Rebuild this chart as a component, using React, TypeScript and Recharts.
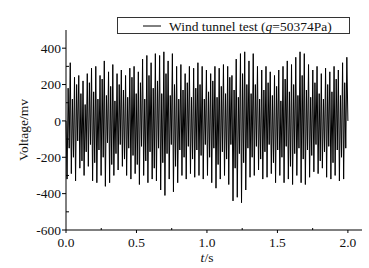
import React from "react";
import { LineChart, Line, XAxis, YAxis, Legend } from "recharts";

// Main extrema, in order (mV)
const peaks: number[] = [
  320, 240, 250, 220, 260, 290, 300, 250, 330, 270, 310,
  260, 280, 250, 290, 300, 270, 340, 360, 320, 370, 360,
  380, 330, 370, 300, 310, 260, 300, 290, 320, 300, 280,
  260, 300, 290, 310, 300, 250, 340, 370, 380, 330, 370,
  300, 280, 300, 270, 250, 280, 300, 330, 310, 350, 380,
  370, 310, 280, 300, 260, 290, 270, 300, 280, 320, 350,
];
const troughs: number[] = [
  -320, -290, -330, -260, -300, -250, -330, -340, -300, -360, -340,
  -300, -270, -250, -300, -320, -290, -350, -300, -340, -320, -330,
  -380, -410, -320, -390, -340, -300, -320, -290, -310, -300, -320,
  -300, -340, -370, -320, -300, -350, -440, -420, -450, -380, -310,
  -300, -270, -320, -310, -290, -340, -300, -340, -320, -350, -300,
  -340, -350, -310, -280, -290, -260, -310, -320, -300, -330, -320,
];
// Secondary (inner) extrema between the main ones
const innerPeaks: number[] = [
  180, 120, 200, 150, 90, 210, 160, 120, 230, 140, 190,
  110, 200, 170, 130, 240, 150, 210, 120, 250, 180, 220,
  150, 260, 140, 200, 120, 170, 210, 130, 180, 200, 120,
  160, 220, 130, 190, 150, 240, 170, 130, 260, 200, 150,
  200, 120, 170, 210, 140, 190, 110, 230, 160, 200, 140,
  250, 170, 130, 210, 150, 120, 200, 160, 230, 140, 210,
];
const innerTroughs: number[] = [
  -150, -200, -110, -220, -170, -130, -230, -160, -200, -120, -240,
  -180, -130, -210, -150, -190, -240, -140, -220, -170, -260, -150,
  -230, -180, -130, -250, -160, -200, -140, -210, -160, -190, -130,
  -200, -150, -240, -170, -210, -130, -260, -180, -230, -150, -200,
  -140, -210, -170, -130, -230, -160, -200, -140, -250, -180, -150,
  -210, -160, -190, -130, -220, -170, -140, -230, -160, -200, -150,
];
const startValue = 0;
const endValue = 0;
const tStart = 0;
const tEnd = 2.0;

const xTicks: number[] = [0, 0.25, 0.5, 0.75, 1.0, 1.25, 1.5, 1.75, 2.0];
const yTicks: number[] = [-600, -500, -400, -300, -200, -100, 0, 100, 200, 300, 400];

const values: number[] = [startValue];
for (let i = 0; i < peaks.length; i++) {
  values.push(troughs[i]);
  values.push(innerPeaks[i]);
  values.push(innerTroughs[i]);
  values.push(peaks[i]);
}
values.push(endValue);
const data = values.map((v, i) => ({
  t: tStart + ((tEnd - tStart) * i) / (values.length - 1),
  v,
}));

const FONT = "'Liberation Serif', 'Times New Roman', serif";

const XTick = (props: any) => {
  const { x, y, payload } = props;
  const val = payload.value as number;
  const major = Math.abs(val * 2 - Math.round(val * 2)) < 1e-6;
  if (!major) {
    return <line x1={x} x2={x} y1={y} y2={y - 2} stroke="#000" strokeWidth={1} />;
  }
  return (
    <g>
      <line x1={x} x2={x} y1={y} y2={y + 3} stroke="#000" strokeWidth={1} />
      <text x={x} y={y + 17} textAnchor="middle" fontFamily={FONT} fontSize={13.5} fill="#111">
        {val.toFixed(1)}
      </text>
    </g>
  );
};

const YTick = (props: any) => {
  const { x, y, payload } = props;
  const val = payload.value as number;
  const major = val % 200 === 0;
  if (!major) {
    return <line x1={x} x2={x + 3} y1={y} y2={y} stroke="#000" strokeWidth={1} />;
  }
  return (
    <g>
      <line x1={x - 4} x2={x} y1={y} y2={y} stroke="#000" strokeWidth={1} />
      <text x={x - 5} y={y} dy="0.35em" textAnchor="end" fontFamily={FONT} fontSize={13.5} fill="#111">
        {val}
      </text>
    </g>
  );
};

const LegendBox = () => (
  <div
    style={{
      width: 231,
      height: 15,
      border: "1px solid #333",
      background: "#fff",
      position: "relative",
      boxSizing: "content-box",
    }}
  >
    <svg width={231} height={15} style={{ position: "absolute", left: 0, top: 0 }}>
      <line x1={25} x2={43} y1={8} y2={8} stroke="#000" strokeWidth={1} />
      <text x={51} y={12.5} fontFamily={FONT} fontSize={13.5} fill="#111">
        Wind tunnel test (<tspan fontStyle="italic">q</tspan>=50374Pa)
      </text>
    </svg>
  </div>
);

export default function App() {
  return (
    <div style={{ position: "absolute", left: 0, top: 0, width: 369, height: 268, background: "#fff" }}>
      <LineChart width={369} height={268} data={data} margin={{ top: 13, right: 7, left: 0, bottom: 0 }}>
        <XAxis
          dataKey="t"
          type="number"
          domain={[0, 2.1]}
          ticks={xTicks}
          interval={0}
          tickSize={0}
          tickMargin={0}
          tickLine={false}
          height={38}
          axisLine={{ stroke: "#000", strokeWidth: 1 }}
          tick={XTick}
          label={{
            content: () => (
              <text x={207} y={262} textAnchor="middle" fontFamily={FONT} fontSize={13.5} fill="#111">
                <tspan fontStyle="italic">t</tspan>/s
              </text>
            ),
          }}
        />
        <YAxis
          type="number"
          domain={[-600, 500]}
          ticks={yTicks}
          interval={0}
          width={66}
          tickSize={0}
          tickMargin={0}
          tickLine={false}
          axisLine={{ stroke: "#000", strokeWidth: 1 }}
          tick={YTick}
          allowDataOverflow
          label={{
            content: () => (
              <text
                x={0}
                y={0}
                transform="translate(23,130) rotate(-90)"
                textAnchor="middle"
                dy="0.35em"
                fontFamily={FONT}
                fontSize={13.5}
                fill="#111"
              >
                Voltage/mv
              </text>
            ),
          }}
        />
        <Legend
          verticalAlign="top"
          align="left"
          content={LegendBox}
          wrapperStyle={{ position: "absolute", left: 117, top: 17, width: 233 }}
        />
        <Line
          dataKey="v"
          stroke="#000"
          strokeWidth={1}
          dot={false}
          isAnimationActive={false}
          type="linear"
        />
      </LineChart>
    </div>
  );
}
